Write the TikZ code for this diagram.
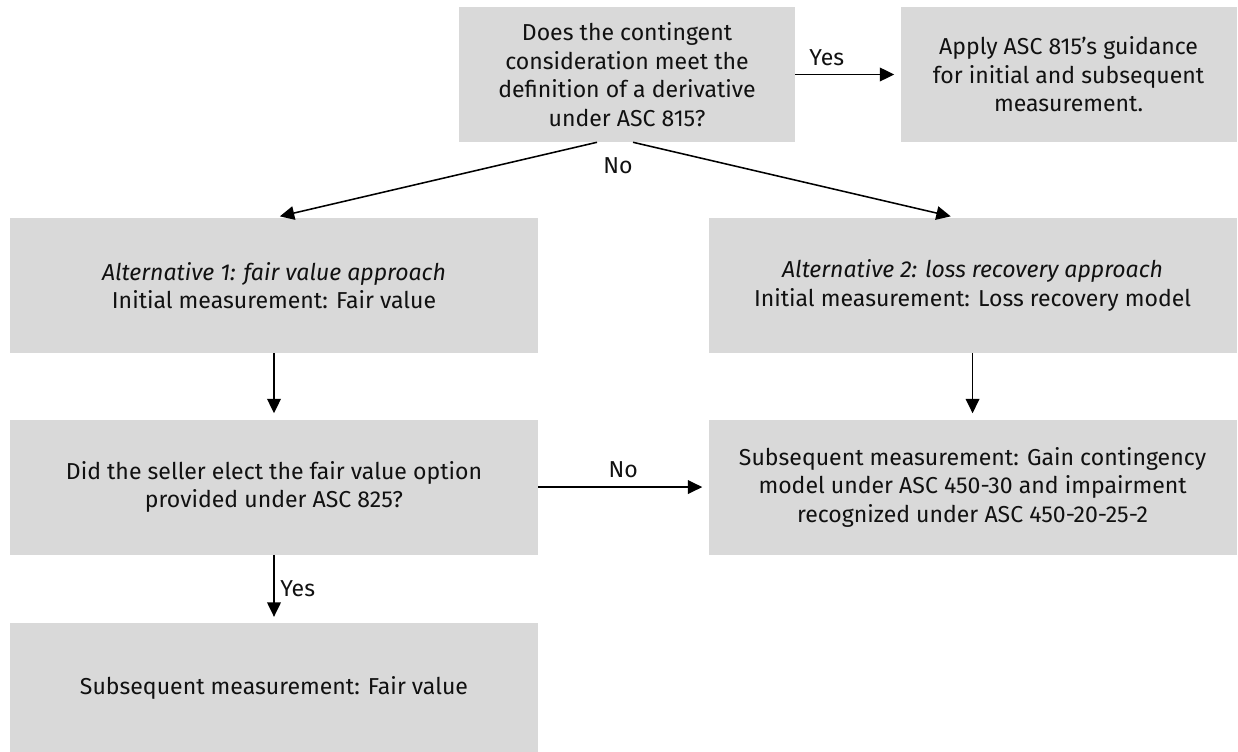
\documentclass[tikz,border=0pt]{standalone}
\usepackage{fontspec}
\setmainfont{Fira Sans}
\usepackage{xcolor}
\usepackage{tikz}
\usetikzlibrary{arrows.meta,positioning}
\definecolor{boxgray}{HTML}{D9D9D9}
\definecolor{inkblack}{HTML}{111111}

\begin{document}
\begin{tikzpicture}[
    box/.style={fill=boxgray, inner sep=0pt, minimum height=3.375cm,
                align=center, text=inkblack, font=\fontsize{16.4}{20.3}\selectfont},
    smallbox/.style={box, minimum width=8.4cm},
    widebox/.style={box, minimum width=13.2cm},
    lbl/.style={font=\fontsize{16.4}{18}\selectfont, text=inkblack, inner sep=2pt},
    arrow/.style={-{Triangle[length=0.36cm,width=0.34cm]}, line width=1.1pt,
                  shorten >=0.15cm},
]
\useasboundingbox (0,0) rectangle (30.95,-18.8);

\node[smallbox] (q1) at (15.675,-1.8625)
      {Does the contingent\\consideration meet the\\definition of a derivative\\under ASC 815?};
\node[smallbox, right=2.625cm of q1] (apply)
      {Apply ASC 815’s guidance\\for initial and subsequent\\measurement.};
\node[widebox] (alt1) at (6.85,-7.1375)
      {\textit{Alternative 1: fair value approach}\\Initial measurement: Fair value};
\node[widebox, right=4.25cm of alt1] (alt2)
      {\textit{Alternative 2: loss recovery approach}\\Initial measurement: Loss recovery model};
\node[widebox, below=1.65cm of alt1] (elect)
      {Did the seller elect the fair value option\\provided under ASC 825?};
\node[widebox, below=1.65cm of alt2] (gain)
      {Subsequent measurement: Gain contingency\\model under ASC 450-30 and impairment\\recognized under ASC 450-20-25-2};
\node[widebox, minimum height=3.25cm, below=1.7cm of elect] (subfv)
      {Subsequent measurement: Fair value};
\node[lbl, below=0.3cm of q1.south, xshift=-0.225cm] (nolbl) {No};

\draw[arrow] (q1) -- node[lbl, above=4pt, pos=0.3]{Yes} (apply);
\draw[arrow] ([xshift=-0.75cm]q1.south) -- (alt1.north);
\draw[arrow] ([xshift=0.15cm]q1.south) -- ([xshift=-0.4cm]alt2.north);
\draw[arrow] (alt1) -- (elect);
\draw[arrow] (alt2) -- (gain);
\draw[arrow] (elect) -- node[lbl, above=4pt]{No} (gain);
\draw[arrow] (elect) -- node[lbl, right=2pt]{Yes} (subfv);
\end{tikzpicture}
\end{document}
